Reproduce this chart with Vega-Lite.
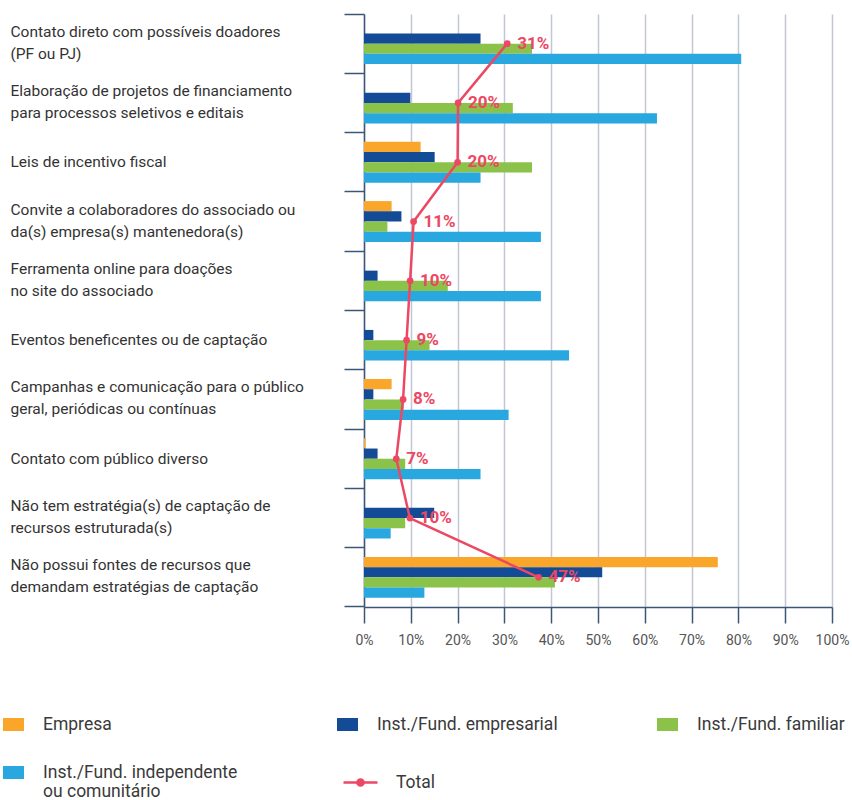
{
  "$schema": "https://vega.github.io/schema/vega-lite/v6.json",
  "width": 468,
  "height": 593,
  "autosize": "none",
  "padding": {"left": 364, "top": 14, "right": 20, "bottom": 193},
  "background": "white",
  "config": {
    "view": {"stroke": null},
    "font": "Roboto",
    "legend": {"padding": 0}
  },
  "datasets": {
    "bars": [
      {"cat": "Contato direto com possíveis doadores\n(PF ou PJ)", "series": "Inst./Fund. empresarial", "value": 24.9},
      {"cat": "Contato direto com possíveis doadores\n(PF ou PJ)", "series": "Inst./Fund. familiar", "value": 35.9},
      {"cat": "Contato direto com possíveis doadores\n(PF ou PJ)", "series": "Inst./Fund. independente ou comunitário", "value": 80.6},
      {"cat": "Elaboração de projetos de financiamento\npara processos seletivos e editais", "series": "Inst./Fund. empresarial", "value": 9.9},
      {"cat": "Elaboração de projetos de financiamento\npara processos seletivos e editais", "series": "Inst./Fund. familiar", "value": 31.8},
      {"cat": "Elaboração de projetos de financiamento\npara processos seletivos e editais", "series": "Inst./Fund. independente ou comunitário", "value": 62.6},
      {"cat": "Leis de incentivo fiscal", "series": "Empresa", "value": 12.1},
      {"cat": "Leis de incentivo fiscal", "series": "Inst./Fund. empresarial", "value": 15.1},
      {"cat": "Leis de incentivo fiscal", "series": "Inst./Fund. familiar", "value": 35.9},
      {"cat": "Leis de incentivo fiscal", "series": "Inst./Fund. independente ou comunitário", "value": 24.9},
      {"cat": "Convite a colaboradores do associado ou\nda(s) empresa(s) mantenedora(s)", "series": "Empresa", "value": 5.9},
      {"cat": "Convite a colaboradores do associado ou\nda(s) empresa(s) mantenedora(s)", "series": "Inst./Fund. empresarial", "value": 8.0},
      {"cat": "Convite a colaboradores do associado ou\nda(s) empresa(s) mantenedora(s)", "series": "Inst./Fund. familiar", "value": 5.0},
      {"cat": "Convite a colaboradores do associado ou\nda(s) empresa(s) mantenedora(s)", "series": "Inst./Fund. independente ou comunitário", "value": 37.8},
      {"cat": "Ferramenta online para doações\nno site do associado", "series": "Inst./Fund. empresarial", "value": 2.9},
      {"cat": "Ferramenta online para doações\nno site do associado", "series": "Inst./Fund. familiar", "value": 17.9},
      {"cat": "Ferramenta online para doações\nno site do associado", "series": "Inst./Fund. independente ou comunitário", "value": 37.8},
      {"cat": "Eventos beneficentes ou de captação", "series": "Inst./Fund. empresarial", "value": 2.0},
      {"cat": "Eventos beneficentes ou de captação", "series": "Inst./Fund. familiar", "value": 14.0},
      {"cat": "Eventos beneficentes ou de captação", "series": "Inst./Fund. independente ou comunitário", "value": 43.8},
      {"cat": "Campanhas e comunicação para o público\ngeral, periódicas ou contínuas", "series": "Empresa", "value": 5.9},
      {"cat": "Campanhas e comunicação para o público\ngeral, periódicas ou contínuas", "series": "Inst./Fund. empresarial", "value": 2.0},
      {"cat": "Campanhas e comunicação para o público\ngeral, periódicas ou contínuas", "series": "Inst./Fund. familiar", "value": 8.5},
      {"cat": "Campanhas e comunicação para o público\ngeral, periódicas ou contínuas", "series": "Inst./Fund. independente ou comunitário", "value": 30.9},
      {"cat": "Contato com público diverso", "series": "Empresa", "value": 0.3},
      {"cat": "Contato com público diverso", "series": "Inst./Fund. empresarial", "value": 2.9},
      {"cat": "Contato com público diverso", "series": "Inst./Fund. familiar", "value": 8.8},
      {"cat": "Contato com público diverso", "series": "Inst./Fund. independente ou comunitário", "value": 24.9},
      {"cat": "Não tem estratégia(s) de captação de\nrecursos estruturada(s)", "series": "Inst./Fund. empresarial", "value": 15.0},
      {"cat": "Não tem estratégia(s) de captação de\nrecursos estruturada(s)", "series": "Inst./Fund. familiar", "value": 8.8},
      {"cat": "Não tem estratégia(s) de captação de\nrecursos estruturada(s)", "series": "Inst./Fund. independente ou comunitário", "value": 5.7},
      {"cat": "Não possui fontes de recursos que\ndemandam estratégias de captação", "series": "Empresa", "value": 75.6},
      {"cat": "Não possui fontes de recursos que\ndemandam estratégias de captação", "series": "Inst./Fund. empresarial", "value": 50.9},
      {"cat": "Não possui fontes de recursos que\ndemandam estratégias de captação", "series": "Inst./Fund. familiar", "value": 40.8},
      {"cat": "Não possui fontes de recursos que\ndemandam estratégias de captação", "series": "Inst./Fund. independente ou comunitário", "value": 12.9}
    ],
    "total": [
      {"cat": "Contato direto com possíveis doadores\n(PF ou PJ)", "total": 30.6, "label": "31%"},
      {"cat": "Elaboração de projetos de financiamento\npara processos seletivos e editais", "total": 20.1, "label": "20%"},
      {"cat": "Leis de incentivo fiscal", "total": 20.0, "label": "20%"},
      {"cat": "Convite a colaboradores do associado ou\nda(s) empresa(s) mantenedora(s)", "total": 10.6, "label": "11%"},
      {"cat": "Ferramenta online para doações\nno site do associado", "total": 9.85, "label": "10%"},
      {"cat": "Eventos beneficentes ou de captação", "total": 9.1, "label": "9%"},
      {"cat": "Campanhas e comunicação para o público\ngeral, periódicas ou contínuas", "total": 8.35, "label": "8%"},
      {"cat": "Contato com público diverso", "total": 6.9, "label": "7%"},
      {"cat": "Não tem estratégia(s) de captação de\nrecursos estruturada(s)", "total": 9.8, "label": "10%"},
      {"cat": "Não possui fontes de recursos que\ndemandam estratégias de captação", "total": 37.3, "label": "47%"}
    ]
  },
  "encoding": {
    "y": {
      "field": "cat",
      "type": "nominal",
      "sort": null,
      "scale": {"paddingInner": 0, "paddingOuter": 0},
      "axis": {
        "title": null,
        "domain": true,
        "domainColor": "#3d5577",
        "domainWidth": 1.5,
        "ticks": true,
        "tickSize": 20,
        "tickColor": "#3d5577",
        "tickWidth": 1.5,
        "bandPosition": 1,
        "tickExtra": true,
        "grid": false,
        "labelAlign": "left",
        "labelBaseline": {"condition": {"test": "datum && isString(datum.value) && indexof(datum.value, '\\n') >= 0", "value": "line-bottom"}, "value": "middle"},
        "labelPadding": 334,
        "labelFont": "Roboto",
        "labelFontSize": 15.5,
        "labelColor": "#333333",
        "labelLineHeight": 22,
        "labelLimit": 400,
        "labelExpr": "split(datum.label, '\\n')"
      }
    },
    "x": {
      "field": "value",
      "type": "quantitative",
      "scale": {"domain": [0, 100]},
      "axis": {
        "title": null,
        "values": [0, 10, 20, 30, 40, 50, 60, 70, 80, 90, 100],
        "labelExpr": "datum.value + '%'",
        "grid": true,
        "gridColor": "#c3c6d4",
        "gridWidth": 1.5,
        "domainColor": "#3d5577",
        "domainWidth": 1.5,
        "tickColor": "#3d5577",
        "tickWidth": 1.5,
        "tickSize": 16,
        "labelPadding": 10,
        "labelFont": "Roboto",
        "labelFontSize": 14,
        "labelColor": "#555555",
        "labelFlush": false
      }
    }
  },
  "layer": [
    {
      "data": {"name": "bars"},
      "mark": {"type": "bar"},
      "encoding": {
        "yOffset": {
          "field": "series",
          "type": "nominal",
          "sort": ["Empresa", "Inst./Fund. empresarial", "Inst./Fund. familiar", "Inst./Fund. independente ou comunitário"],
          "scale": {
            "domain": ["Empresa", "Inst./Fund. empresarial", "Inst./Fund. familiar", "Inst./Fund. independente ou comunitário"],
            "paddingInner": 0,
            "paddingOuter": 0.9
          }
        },
        "color": {
          "field": "series",
          "type": "nominal",
          "scale": {
            "domain": ["Empresa", "Inst./Fund. empresarial", "Inst./Fund. familiar", "Inst./Fund. independente ou comunitário"],
            "range": ["#f9a62a", "#134b96", "#8bc34a", "#29a7df"]
          },
          "legend": {
            "title": null,
            "orient": "none",
            "legendX": -361,
            "legendY": 700,
            "direction": "horizontal",
            "columns": 3,
            "columnPadding": 99,
            "rowPadding": 29,
            "symbolType": "M-1,-0.62H1V0.62H-1Z",
            "symbolSize": 441,
            "symbolStrokeWidth": 0,
            "labelOffset": 19,
            "labelFont": "Roboto",
            "labelFontSize": 17.5,
            "labelColor": "#3a3a3a",
            "labelLineHeight": 16,
            "labelLimit": 400,
            "labelExpr": "datum.label == 'Inst./Fund. independente ou comunitário' ? ['Inst./Fund. independente', 'ou comunitário'] : datum.label"
          }
        }
      }
    },
    {
      "data": {"name": "total"},
      "mark": {"type": "line", "strokeWidth": 2.5},
      "encoding": {
        "x": {"field": "total", "type": "quantitative"},
        "stroke": {
          "datum": "Total",
          "type": "nominal",
          "scale": {"range": ["#ec4863"]},
          "legend": {
            "title": null,
            "orient": "none",
            "legendX": -22,
            "legendY": 750,
            "symbolType": "M-1,0H1M0.18,0A0.18,0.18,0,1,1,-0.18,0A0.18,0.18,0,1,1,0.18,0",
            "symbolSize": 1156,
            "symbolStrokeWidth": 2.5,
            "symbolFillColor": "#ec4863",
            "labelOffset": 17,
            "labelFont": "Roboto",
            "labelFontSize": 17.5,
            "labelColor": "#3a3a3a"
          }
        }
      }
    },
    {
      "data": {"name": "total"},
      "mark": {"type": "point", "filled": true, "size": 45, "color": "#ec4863", "opacity": 1},
      "encoding": {
        "x": {"field": "total", "type": "quantitative"}
      }
    },
    {
      "data": {"name": "total"},
      "mark": {"type": "text", "align": "left", "baseline": "middle", "dx": 10, "fontWeight": "bold", "fontSize": 17, "font": "Roboto", "color": "#ec4863"},
      "encoding": {
        "x": {"field": "total", "type": "quantitative"},
        "text": {"field": "label"}
      }
    }
  ]
}
